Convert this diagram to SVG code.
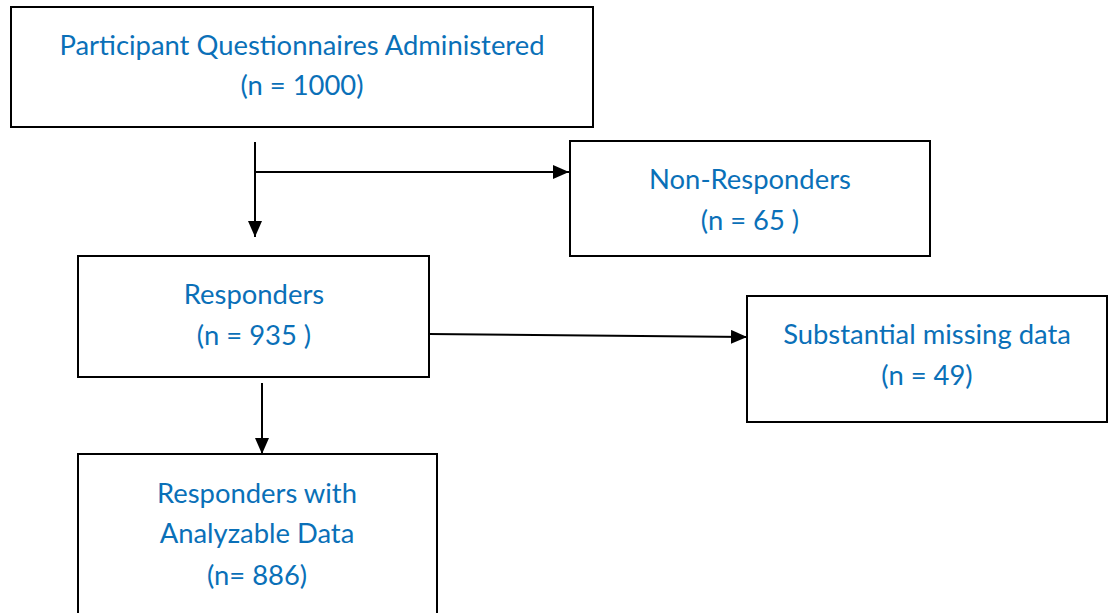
<svg xmlns="http://www.w3.org/2000/svg" width="1112" height="613" viewBox="0 0 1112 613">
<style>
.box{fill:#fff;stroke:#000;stroke-width:2}
.t{font-family:Lato,"Liberation Sans",sans-serif;font-size:27.4px;fill:#0a70b8;text-anchor:middle}
.c{stroke:#000;stroke-width:2;fill:none}
</style>
<defs>
<marker id="ah" viewBox="0 0 16 14" refX="16" refY="7" markerWidth="16" markerHeight="14" markerUnits="userSpaceOnUse" orient="auto">
<path d="M0,0 L16,7 L0,14 z" fill="#000"/>
</marker>
</defs>
<rect width="1112" height="613" fill="#fff"/>
<g id="n1"><rect class="box" x="11" y="7" width="582" height="120"/>
<text class="t" x="302" y="55">Participant Questionnaires Administered</text>
<text class="t" x="302" y="95">(n = 1000)</text></g>
<g id="n2"><rect class="box" x="570" y="141" width="360" height="115"/>
<text class="t" x="750" y="189">Non-Responders</text>
<text class="t" x="750" y="230">(n = 65 )</text></g>
<g id="n3"><rect class="box" x="78" y="256" width="351" height="121"/>
<text class="t" x="254" y="304">Responders</text>
<text class="t" x="254" y="345">(n = 935 )</text></g>
<g id="n4"><rect class="box" x="747" y="296" width="360" height="126"/>
<text class="t" x="927" y="344">Substantial missing data</text>
<text class="t" x="927" y="385">(n = 49)</text></g>
<g id="n5"><rect class="box" x="78" y="454" width="359" height="170"/>
<text class="t" x="257" y="503">Responders with</text>
<text class="t" x="257" y="543">Analyzable Data</text>
<text class="t" x="257" y="585">(n= 886)</text></g>
<g id="connectors">
<path class="c" d="M255,142 V237" marker-end="url(#ah)"/>
<path class="c" d="M255,172 H569" marker-end="url(#ah)"/>
<path class="c" d="M429,334 L747,337" marker-end="url(#ah)"/>
<path class="c" d="M262,383 V454" marker-end="url(#ah)"/>
</g>
</svg>
